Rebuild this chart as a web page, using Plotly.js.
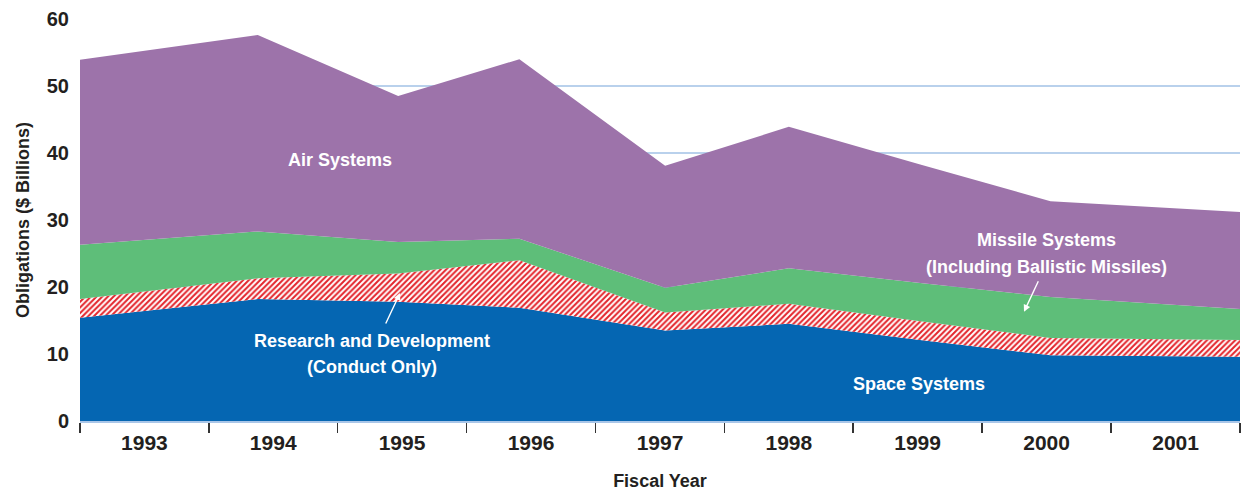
<!DOCTYPE html>
<html>
<head>
<meta charset="utf-8">
<script src="https://cdn.plot.ly/plotly-3.0.1.min.js"></script>
<style>
  html, body { margin: 0; padding: 0; background: #ffffff; }
  #chart { width: 1243px; height: 491px; }
</style>
</head>
<body>
<div id="chart"></div>
<script>
// Fiscal years shown on the axis
const fiscalYears = ['1993', '1994', '1995', '1996', '1997', '1998', '1999', '2000', '2001'];
// Point in time (fractional year) at which each year's value is plotted in the original drawing
const fyPoint = [1993.0, 1994.38, 1995.47, 1996.41, 1997.54, 1998.50, 1999.52, 2000.53, 2002.0];

// Obligations, $ billions (stacked, bottom to top)
const spaceSystems   = [15.4, 18.2, 17.8, 16.9, 13.5, 14.5, 12.1, 9.8, 9.6];
const researchDev    = [2.8, 3.1, 4.2, 7.1, 2.7, 3.0, 2.8, 2.6, 2.5];
const missileSystems = [8.1, 7.0, 4.7, 3.2, 3.7, 5.3, 5.7, 6.1, 4.6];
const airSystems     = [27.6, 29.3, 21.8, 26.8, 18.2, 21.1, 17.7, 14.3, 14.5];

const yTicks = [0, 10, 20, 30, 40, 50, 60];

function fyToDate(y) {
  const yr = Math.floor(y), f = y - yr;
  const a = Date.UTC(yr, 0, 1), b = Date.UTC(yr + 1, 0, 1);
  return new Date(a + f * (b - a)).toISOString().slice(0, 19).replace('T', ' ');
}
const xDates = fyPoint.map(fyToDate);

const FONT = 'Liberation Sans, Arial, Helvetica, sans-serif';
const DARK = '#231f20';

function area(name, vals, color, extra) {
  return Object.assign({
    type: 'scatter', x: xDates, y: vals, name: name,
    stackgroup: 'one', mode: 'none', fillcolor: color,
    line: { width: 0, shape: 'linear' }, hoverinfo: 'skip'
  }, extra || {});
}

const data = [
  area('Space Systems', spaceSystems, '#0566b2'),
  area('Research and Development (Conduct Only)', researchDev, '#ffffff', {
    fillpattern: { shape: '/', fgcolor: '#e3242b', bgcolor: '#ffffff', size: 4, solidity: 0.5 }
  }),
  area('Missile Systems (Including Ballistic Missiles)', missileSystems, '#5ebe79'),
  area('Air Systems', airSystems, '#9d73aa')
];

const white = { family: FONT, size: 18, color: '#ffffff', weight: 'bold' };
function label(text, px, py) {
  return { text: text, xref: 'paper', yref: 'y', x: px, y: py, showarrow: false,
           font: white, xanchor: 'center', yanchor: 'middle' };
}
function arrow(px, py, ax, ay) {
  return { text: '', xref: 'paper', yref: 'y', x: px, y: py, ax: ax, ay: ay,
           showarrow: true, arrowcolor: '#ffffff', arrowwidth: 1.4, arrowhead: 2, arrowsize: 1 };
}

const layout = {
  width: 1243, height: 491,
  margin: { l: 80, r: 3, t: 19, b: 70 },
  paper_bgcolor: '#ffffff', plot_bgcolor: '#ffffff',
  showlegend: false,
  font: { family: FONT, color: DARK },
  xaxis: {
    type: 'date',
    range: ['1993-01-01', '2002-01-01'],
    tick0: '1993-01-01', dtick: 'M12', tickformat: '%Y',
    ticklabelmode: 'period',
    ticks: 'outside', ticklen: 10, tickwidth: 1.5, tickcolor: '#333333',
    ticklabelstandoff: -8,
    showgrid: false, zeroline: false,
    showline: true, linecolor: '#a9c6e8', linewidth: 2,
    tickfont: { family: FONT, size: 21, color: DARK, weight: 'bold' },
    title: { text: 'Fiscal Year', font: { family: FONT, size: 18, color: DARK, weight: 'bold' }, standoff: 26 },
    fixedrange: true
  },
  yaxis: {
    range: [0, 60], tickvals: yTicks, ticktext: yTicks.map(String),
    showgrid: true, gridcolor: '#b9d1ec', gridwidth: 1.5,
    zeroline: false, showline: false, ticks: '',
    ticklabelstandoff: 10,
    tickfont: { family: FONT, size: 20, color: DARK, weight: 'bold' },
    title: { text: 'Obligations ($ Billions)', font: { family: FONT, size: 18, color: DARK, weight: 'bold' }, standoff: 12 },
    fixedrange: true
  },
  annotations: [
    label('Air Systems', 0.224, 39.0),
    label('Research and Development', 0.252, 11.94),
    label('(Conduct Only)', 0.252, 8.06),
    label('Missile Systems', 0.833, 27.0),
    label('(Including Ballistic Missiles)', 0.833, 23.0),
    label('Space Systems', 0.723, 5.5),
    arrow(0.2759, 19.1, -15, 32),
    arrow(0.8138, 16.3, 15, -32)
  ]
};

Plotly.newPlot('chart', data, layout, { displayModeBar: false, staticPlot: true });
</script>
</body>
</html>
